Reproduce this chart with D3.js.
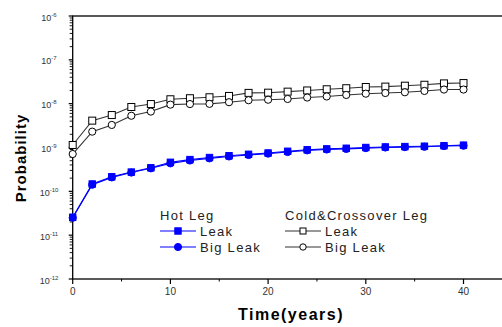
<!DOCTYPE html>
<html>
<head>
<meta charset="utf-8">
<script src="https://cdn.jsdelivr.net/npm/d3@7"></script>
<style>
  body { margin: 0; background: #fff; }
  svg { display: block; font-family: "Liberation Sans", Arial, sans-serif; }
</style>
</head>
<body>
<div id="chart"></div>
<script>
// years (every 2 years)
var years = [0,2,4,6,8,10,12,14,16,18,20,22,24,26,28,30,32,34,36,38,40];

var hotLeak    = [2.55e-11,1.47e-10,2.15e-10,2.75e-10,3.45e-10,4.6e-10,5.3e-10,5.9e-10,6.5e-10,7.0e-10,7.5e-10,8.2e-10,8.9e-10,9.3e-10,9.6e-10,1.0e-9,1.03e-9,1.05e-9,1.07e-9,1.1e-9,1.13e-9];
var hotBigLeak = [2.5e-11,1.42e-10,2.08e-10,2.68e-10,3.35e-10,4.35e-10,5.05e-10,5.65e-10,6.25e-10,6.75e-10,7.25e-10,7.9e-10,8.6e-10,9.0e-10,9.3e-10,9.7e-10,1.0e-9,1.02e-9,1.04e-9,1.08e-9,1.1e-9];
var coldLeak    = [1.14e-9,4.1e-9,5.5e-9,8.4e-9,9.8e-9,1.26e-8,1.33e-8,1.4e-8,1.5e-8,1.76e-8,1.78e-8,1.88e-8,2.0e-8,2.13e-8,2.25e-8,2.4e-8,2.45e-8,2.57e-8,2.7e-8,2.9e-8,2.95e-8];
var coldBigLeak = [7.1e-10,2.3e-9,3.27e-9,5.3e-9,6.6e-9,9.5e-9,9.8e-9,9.9e-9,1.08e-8,1.2e-8,1.23e-8,1.28e-8,1.38e-8,1.46e-8,1.58e-8,1.69e-8,1.75e-8,1.82e-8,1.95e-8,2.1e-8,2.1e-8];

var xTicks = [0,10,20,30,40];
var yExps = [-6,-7,-8,-9,-10,-11,-12];

function createChart(){
  var W = 502, H = 327;
  var plotLeft = 72.7, plotTop = 16, plotBottom = 279;

  var x = d3.scaleLinear().domain([0,45]).range([plotLeft, plotLeft + 45*9.77]);
  var y = d3.scaleLog().domain([1e-12,1e-6]).range([plotBottom, plotTop]);

  var svg = d3.select("#chart").append("svg")
      .attr("width", W).attr("height", H);

  // frame (right side falls outside the picture)
  svg.append("rect")
      .attr("x", x(0)).attr("y", y(1e-6))
      .attr("width", x(45) - x(0)).attr("height", y(1e-12) - y(1e-6))
      .style("fill", "none").style("stroke", "#000").style("stroke-width", 1.3);

  // y ticks (log, minor 2..9)
  var yg = svg.append("g");
  for (var e = -12; e <= -6; e++) {
    yg.append("line")
      .attr("x1", x(0) - 4).attr("x2", x(0))
      .attr("y1", y(Math.pow(10, e))).attr("y2", y(Math.pow(10, e)))
      .style("stroke", "#000").style("stroke-width", 1.2);
    if (e < -6) {
      for (var m = 2; m <= 9; m++) {
        var v = m * Math.pow(10, e);
        yg.append("line")
          .attr("x1", x(0) - 3).attr("x2", x(0))
          .attr("y1", y(v)).attr("y2", y(v))
          .style("stroke", "#000").style("stroke-width", 0.9);
      }
    }
  }
  yExps.forEach(function(ex) {
    var t = yg.append("text")
      .attr("x", 49).attr("y", y(Math.pow(10, ex)) + 4.5)
      .attr("text-anchor", "middle")
      .style("font-size", "9px").style("fill", "#333");
    t.append("tspan").text("10");
    t.append("tspan").attr("dy", -4).style("font-size", "6px").text(ex);
  });

  // x ticks
  var xg = svg.append("g");
  xTicks.forEach(function(d) {
    xg.append("line")
      .attr("x1", x(d)).attr("x2", x(d))
      .attr("y1", plotBottom).attr("y2", plotBottom + 5)
      .style("stroke", "#000").style("stroke-width", 1.2);
    xg.append("line")
      .attr("x1", x(d + 5)).attr("x2", x(d + 5))
      .attr("y1", plotBottom).attr("y2", plotBottom + 2.5)
      .style("stroke", "#000").style("stroke-width", 1);
    xg.append("text")
      .attr("x", x(d)).attr("y", plotBottom + 16)
      .attr("text-anchor", "middle")
      .style("font-size", "10px").style("fill", "#333")
      .text(d);
  });

  // axis titles
  svg.append("text")
      .attr("transform", "translate(25.5,158) rotate(-90)")
      .attr("text-anchor", "middle")
      .style("font-size", "15px").style("font-weight", "bold")
      .style("letter-spacing", "1px")
      .text("Probability");

  svg.append("text")
      .attr("x", 291).attr("y", 320)
      .attr("text-anchor", "middle")
      .style("font-size", "16px").style("font-weight", "bold")
      .style("letter-spacing", "1.5px")
      .text("Time(years)");

  // series
  var series = [
    {values: coldLeak,    color: "#333", shape: "square", fill: "#fff"},
    {values: coldBigLeak, color: "#333", shape: "circle", fill: "#fff"},
    {values: hotBigLeak,  color: "#0000ff", shape: "circle", fill: "#0000ff"},
    {values: hotLeak,     color: "#0000ff", shape: "square", fill: "#0000ff"}
  ];

  var line = d3.line()
      .x(function(d, i) { return x(years[i]); })
      .y(function(d) { return y(d); });

  function drawMarker(g, cx, cy, s) {
    if (s.shape == "square") {
      var h = s.fill == "#fff" ? 3.5 : 3.2;
      g.append("rect")
        .attr("x", cx - h).attr("y", cy - h)
        .attr("width", 2*h).attr("height", 2*h)
        .style("fill", s.fill).style("stroke", s.fill == "#fff" ? "#000" : s.color)
        .style("stroke-width", 1);
    } else {
      g.append("circle")
        .attr("cx", cx).attr("cy", cy).attr("r", 3.6)
        .style("fill", s.fill).style("stroke", s.fill == "#fff" ? "#000" : s.color)
        .style("stroke-width", 1);
    }
  }

  series.forEach(function(s) {
    svg.append("path")
      .datum(s.values)
      .attr("d", line)
      .style("fill", "none")
      .style("stroke", s.color)
      .style("stroke-width", 1.1);
    var g = svg.append("g");
    s.values.forEach(function(v, i) {
      drawMarker(g, x(years[i]), y(v), s);
    });
  });

  // legend
  var lg = svg.append("g").style("font-size", "13px").style("fill", "#222")
      .style("letter-spacing", "1.3px");
  lg.append("text").attr("x", 160).attr("y", 220).text("Hot Leg");
  lg.append("text").attr("x", 285).attr("y", 220).text("Cold&Crossover Leg");

  var legendItems = [
    {x0: 160, yy: 231, label: "Leak",     s: series[3]},
    {x0: 160, yy: 247, label: "Big Leak", s: series[2]},
    {x0: 285, yy: 231, label: "Leak",     s: series[0]},
    {x0: 285, yy: 247, label: "Big Leak", s: series[1]}
  ];
  legendItems.forEach(function(it) {
    lg.append("line")
      .attr("x1", it.x0).attr("x2", it.x0 + 36)
      .attr("y1", it.yy).attr("y2", it.yy)
      .style("stroke", it.s.color).style("stroke-width", 1.1);
    if (it.s.fill == "#fff") {
      if (it.s.shape == "square") {
        lg.append("rect").attr("x", it.x0 + 15).attr("y", it.yy - 3)
          .attr("width", 6).attr("height", 6)
          .style("fill", "#fff").style("stroke", "#000");
      } else {
        lg.append("circle").attr("cx", it.x0 + 18).attr("cy", it.yy).attr("r", 3.2)
          .style("fill", "#fff").style("stroke", "#000");
      }
    } else {
      drawMarker(lg, it.x0 + 18, it.yy, it.s);
    }
    lg.append("text").attr("x", it.x0 + 40).attr("y", it.yy + 5).text(it.label);
  });
}

createChart();
</script>
</body>
</html>
